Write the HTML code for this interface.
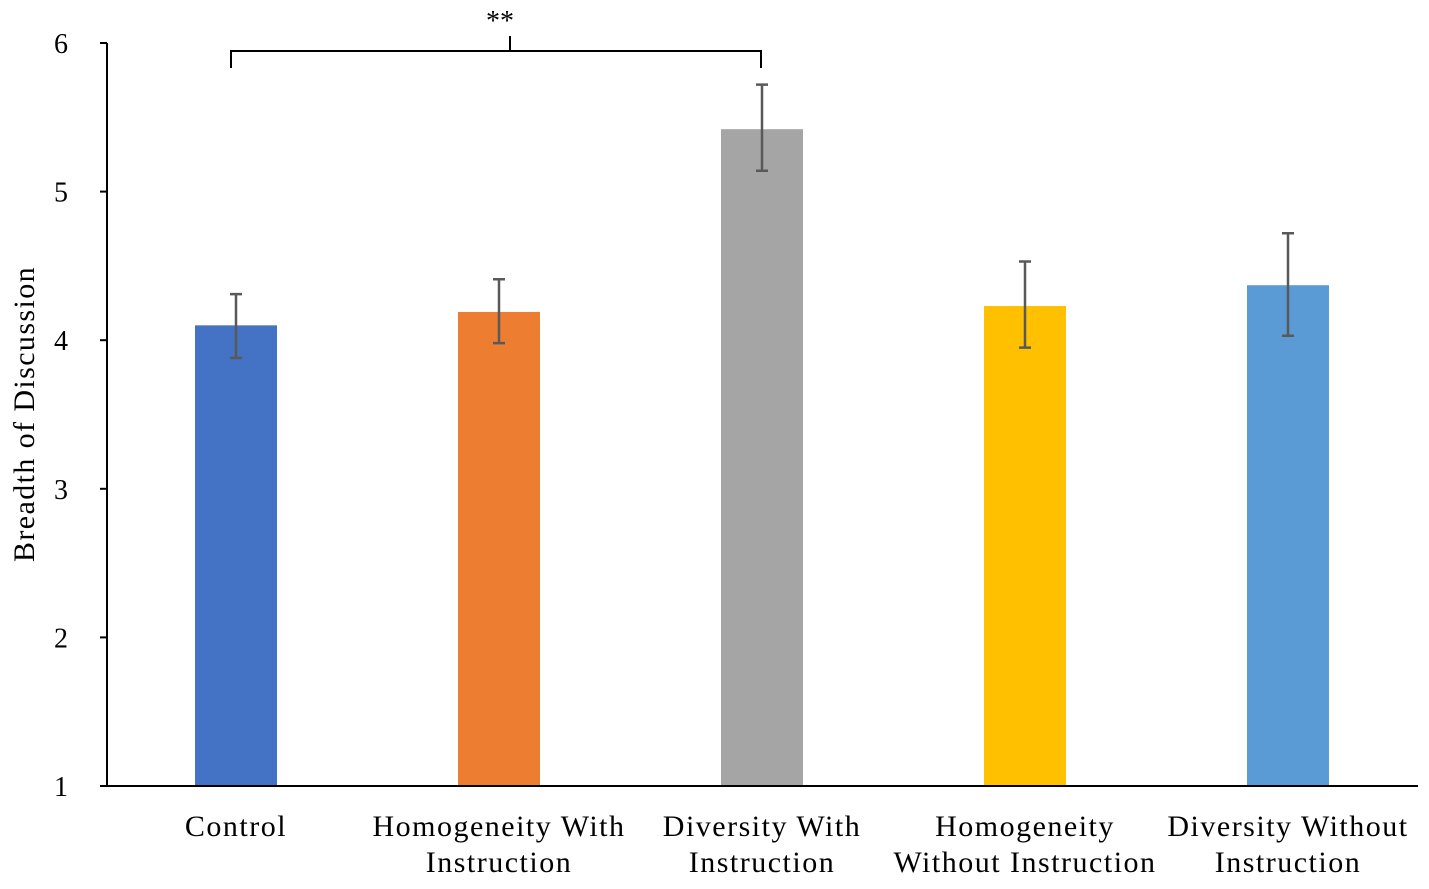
<!DOCTYPE html>
<html><head><meta charset="utf-8"><style>
body{margin:0;background:#fff}
svg text{font-family:"Liberation Serif",serif;fill:#000}
</style></head><body>
<svg id="chart" width="1429" height="884" xmlns="http://www.w3.org/2000/svg">
<g id="plot"></g>
</svg>
<script>
const categories=[["Control"],["Homogeneity  With","Instruction"],["Diversity  With","Instruction"],["Homogeneity","Without Instruction"],["Diversity  Without","Instruction"]];
const values=[4.10,4.19,5.42,4.23,4.37];
const errUp=[4.31,4.41,5.72,4.53,4.72];
const errDown=[3.88,3.98,5.14,3.95,4.03];
const colors=["#4472c4","#ed7d31","#a5a5a5","#ffc000","#5b9bd5"];
const ticks=[1,2,3,4,5,6];
const ns="http://www.w3.org/2000/svg";
const g=document.getElementById('plot');
const y=v=>786-(v-1)*148.6;
const x=i=>236+i*263;
function el(t,a){const e=document.createElementNS(ns,t);for(const k in a)e.setAttribute(k,a[k]);g.appendChild(e);return e;}
values.forEach((v,i)=>{
 const r=el('rect',{x:x(i)-41,y:y(v),width:82,height:y(1)-y(v),fill:colors[i]});
 
 
 const eb=el('path',{d:`M${x(i)},${y(errUp[i])}V${y(errDown[i])}M${x(i)-6},${y(errUp[i])}H${x(i)+6}M${x(i)-6},${y(errDown[i])}H${x(i)+6}`,stroke:'#595959','stroke-width':2.5,fill:'none'});
 
 
 categories[i].forEach((s,j)=>{
  const t=el('text',{x:x(i),y:836+j*36,'font-size':30,'text-anchor':'middle','letter-spacing':1.5});
  t.setAttribute('xml:space','preserve');
  t.textContent=s;
  
  
 });
});
ticks.forEach(v=>{
 const l=el('line',{x1:100,x2:107,y1:y(v),y2:y(v),stroke:'#000','stroke-width':2});
 
 
 const t=el('text',{x:68,y:y(v)+10,'font-size':28,'text-anchor':'end'});
 t.textContent=v;
 
 
});
const ya=el('line',{x1:107,x2:107,y1:y(6),y2:787,stroke:'#000','stroke-width':2});


const xa=el('line',{x1:106,x2:1418,y1:786,y2:786,stroke:'#000','stroke-width':2});


const yt=el('text',{x:0,y:0,'font-size':30,'text-anchor':'middle','letter-spacing':1.4,transform:'translate(34,414) rotate(-90)'});
yt.textContent='Breadth of Discussion';


const br=el('path',{d:`M${x(0)-5},68V51H761V68M510,51V36`,stroke:'#000','stroke-width':2,fill:'none'});


const st=el('text',{x:500,y:30,'font-size':28,'text-anchor':'middle'});
st.textContent='**';


</script>
</body></html>
